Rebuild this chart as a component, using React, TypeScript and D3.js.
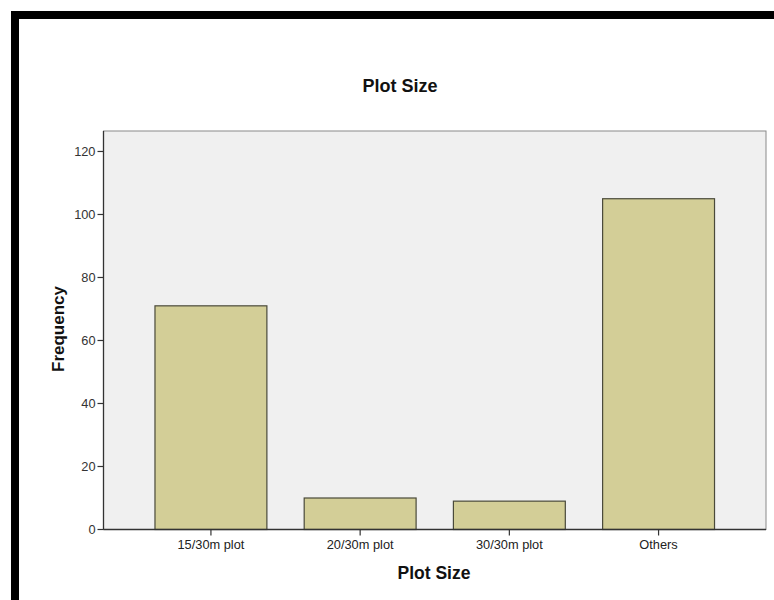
import React from "react";
import * as d3 from "d3";

const categories = ["15/30m plot", "20/30m plot", "30/30m plot", "Others"];
const frequencies = [71, 10, 9, 105];
const yTicks = [0, 20, 40, 60, 80, 100, 120];
const title = "Plot Size";
const xLabel = "Plot Size";
const yLabel = "Frequency";

const W = 774;
const H = 600;
const plot = { left: 103.5, right: 766, top: 131, bottom: 529.5 };

export default function App() {
  const x = d3
    .scaleBand<string>()
    .domain(categories)
    .range([plot.left, plot.right])
    .paddingInner(0.25)
    .paddingOuter(0.345);
  const y = d3.scaleLinear().domain([0, 126.5]).range([plot.bottom, plot.top]);
  const font = "Arial, 'Liberation Sans', sans-serif";

  return (
    <svg
      width={W}
      height={H}
      style={{ position: "absolute", left: 0, top: 0, background: "#fff" }}
      fontFamily={font}
    >
      <rect x={0} y={0} width={W} height={H} fill="#fff" />
      {/* black frame */}
      <rect x={11} y={11} width={W - 11} height={8} fill="#000" />
      <rect x={11} y={11} width={8} height={H - 11} fill="#000" />

      <text x={400} y={92} textAnchor="middle" fontSize={18} fontWeight="bold" fill="#111">
        {title}
      </text>

      {/* plot background */}
      <rect
        x={plot.left}
        y={plot.top}
        width={plot.right - plot.left}
        height={plot.bottom - plot.top}
        fill="#f0f0f0"
        stroke="#8a8a8a"
        strokeWidth={1}
      />

      {categories.map((c, i) => (
        <rect
          key={c}
          x={x(c)}
          y={y(frequencies[i])}
          width={x.bandwidth()}
          height={y(0) - y(frequencies[i])}
          fill="#d3ce97"
          stroke="#4a4a3a"
          strokeWidth={1.2}
        />
      ))}

      {/* axes lines */}
      <line x1={plot.left} x2={plot.left} y1={plot.top} y2={plot.bottom} stroke="#333" strokeWidth={1.3} />
      <line x1={plot.left} x2={plot.right} y1={plot.bottom} y2={plot.bottom} stroke="#333" strokeWidth={1.3} />

      {yTicks.map((t) => (
        <g key={t}>
          <line x1={plot.left - 6} x2={plot.left} y1={y(t)} y2={y(t)} stroke="#333" strokeWidth={1.2} />
          <text x={plot.left - 8} y={y(t) + 4.5} textAnchor="end" fontSize={12.8} fill="#333">
            {t}
          </text>
        </g>
      ))}

      {categories.map((c) => {
        const cx = (x(c) as number) + x.bandwidth() / 2;
        return (
          <g key={c}>
            <line x1={cx} x2={cx} y1={plot.bottom} y2={plot.bottom + 6} stroke="#333" strokeWidth={1.2} />
            <text x={cx} y={plot.bottom + 19.5} textAnchor="middle" fontSize={12.8} fill="#222">
              {c}
            </text>
          </g>
        );
      })}

      <text x={434} y={579} textAnchor="middle" fontSize={17.5} fontWeight="bold" fill="#111">
        {xLabel}
      </text>
      <text
        transform={`translate(64, 329) rotate(-90)`}
        textAnchor="middle"
        fontSize={17}
        fontWeight="bold"
        fill="#111"
      >
        {yLabel}
      </text>
    </svg>
  );
}
